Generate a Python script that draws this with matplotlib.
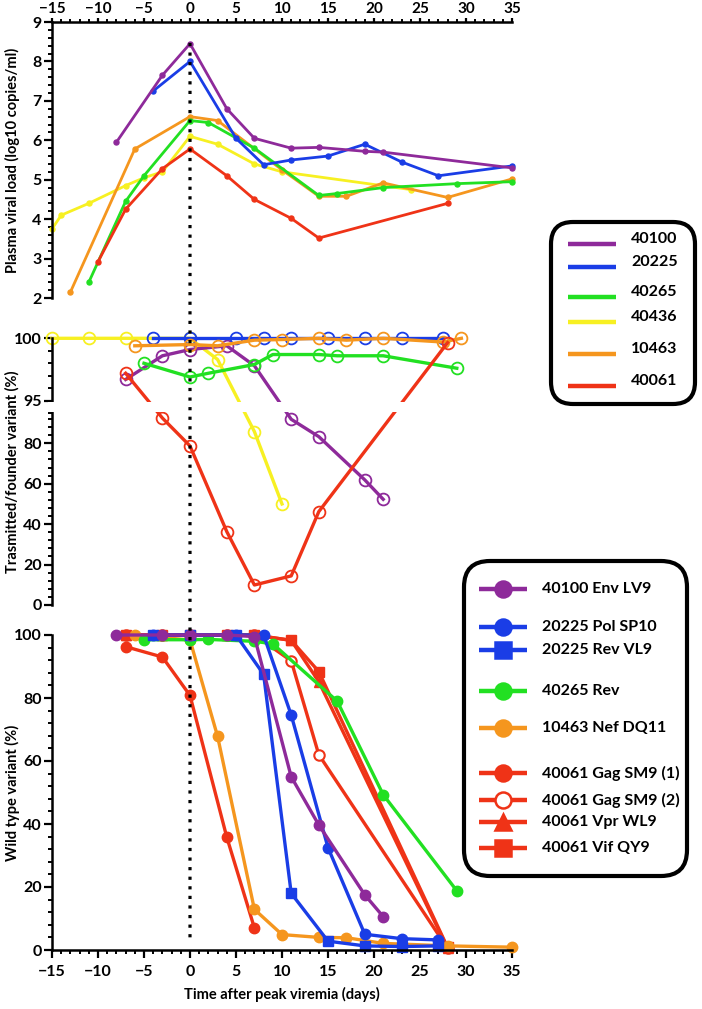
import numpy as np
import matplotlib as mpl
mpl.use('Agg')
import matplotlib.pyplot as plt
from matplotlib.patches import FancyBboxPatch, Rectangle, ConnectionPatch
from matplotlib.ticker import MultipleLocator, FixedLocator

plt.rcParams['font.family'] = ['Lato', 'DejaVu Sans']
plt.rcParams['font.weight'] = 'bold'
plt.rcParams['axes.labelweight'] = 'bold'

# colours per animal
c_purple = '#8e2a9a'
c_blue = '#1a3de6'
c_green = '#22e022'
c_yellow = '#f7f022'
c_orange = '#f5961e'
c_red = '#ef3317'

# ---- top panel: plasma viral load (log10 copies/ml)
vl_40100_x = [-8, -3, 0, 4, 7, 11, 14, 19, 21, 35]
vl_40100_y = [5.95, 7.65, 8.45, 6.8, 6.05, 5.8, 5.82, 5.72, 5.7, 5.3]
vl_20225_x = [-4, 0, 5, 8, 11, 15, 19, 23, 27, 35]
vl_20225_y = [7.25, 8.0, 6.05, 5.38, 5.5, 5.6, 5.9, 5.45, 5.1, 5.35]
vl_40265_x = [-11, -7, -5, 0, 2, 7, 14, 16, 21, 29, 35]
vl_40265_y = [2.4, 4.45, 5.1, 6.5, 6.45, 5.8, 4.6, 4.65, 4.8, 4.9, 4.95]
vl_40436_x = [-15, -14, -11, -7, -5, -3, 0, 3, 7, 10, 24]
vl_40436_y = [3.75, 4.1, 4.4, 4.85, 5.05, 5.2, 6.1, 5.9, 5.4, 5.2, 4.75]
vl_10463_x = [-13, -6, 0, 3, 10, 14, 17, 21, 28, 35]
vl_10463_y = [2.15, 5.78, 6.6, 6.5, 5.25, 4.58, 4.58, 4.92, 4.55, 5.02]
vl_40061_x = [-10, -7, -3, 0, 4, 7, 11, 14, 28]
vl_40061_y = [2.92, 4.25, 5.28, 5.78, 5.1, 4.5, 4.02, 3.52, 4.4]

# ---- middle panel: transmitted/founder variant (%)
tf_40436_x = [-15, -11, -7, 0, 3, 7, 10]
tf_40436_y = [100, 100, 100, 100, 98.3, 85.8, 50]
tf_40100_x = [-7, -3, 0, 4, 7, 11, 14, 19, 21]
tf_40100_y = [96.7, 98.6, 99.1, 99.4, 97.8, 91.9, 83.3, 61.9, 52.3]
tf_20225_x = [-4, 0, 5, 8, 11, 15, 19, 23, 27.5]
tf_20225_y = [100, 100, 100, 100, 100, 100, 100, 100, 100]
tf_40265_x = [-5, 0, 2, 7, 9, 14, 16, 21, 29]
tf_40265_y = [98.0, 96.9, 97.2, 97.9, 98.7, 98.7, 98.6, 98.6, 97.6]
tf_10463_x = [-6, 0, 3, 7, 10, 14, 17, 21, 27.5, 29.5]
tf_10463_y = [99.4, 99.5, 99.4, 99.85, 99.9, 100, 99.85, 100, 99.7, 100]
tf_40061_x = [-7, -3, 0, 4, 7, 11, 14, 28]
tf_40061_y = [97.2, 92.5, 78.7, 36.3, 9.9, 14.4, 46.2, 99.65]

# ---- bottom panel: wild type variant (%)
wt_env_x = [-8, -3, 0, 4, 7, 11, 14, 19, 21]
wt_env_y = [100, 100, 100, 100, 99.5, 55, 39.7, 17.5, 10.6]
wt_pol_x = [-4, 0, 5, 8, 11, 15, 19, 23, 27]
wt_pol_y = [100, 100, 100, 100, 74.6, 32.5, 5.0, 3.6, 3.2]
wt_rev20_x = [-4, 0, 5, 8, 11, 15, 19, 23, 27]
wt_rev20_y = [100, 100, 100, 87.5, 18, 2.8, 1.3, 1.1, 1.3]
wt_rev65_x = [-5, 0, 2, 7, 9, 16, 21, 29]
wt_rev65_y = [98.5, 98.5, 98.6, 98.0, 97.2, 79, 49.3, 18.8]
wt_nef_x = [-6, 0, 3, 7, 10, 14, 17, 21, 28, 35]
wt_nef_y = [100, 98.4, 67.8, 12.9, 4.9, 4.0, 3.9, 2.1, 1.3, 0.9]
wt_gag1_x = [-7, -3, 0, 4, 7]
wt_gag1_y = [96.3, 93, 80.8, 35.8, 7]
wt_gag2_x = [-7, -3, 0, 4, 7, 11, 14, 28]
wt_gag2_y = [100, 100, 100, 100, 100, 91.8, 62, 0.5]
wt_vpr_x = [-7, -3, 0, 4, 7, 11, 14, 28]
wt_vpr_y = [100, 100, 100, 100, 100, 98.3, 85.2, 0.5]
wt_vif_x = [-7, -3, 0, 4, 7, 11, 14, 28]
wt_vif_y = [100, 100, 100, 100, 100, 98.3, 88.4, 0.8]

animals = ['40100', '20225', '40265', '40436', '10463', '40061']
animal_colors = [c_purple, c_blue, c_green, c_yellow, c_orange, c_red]
epitopes = ['40100 Env LV9', '20225 Pol SP10', '20225 Rev VL9', '40265 Rev',
            '10463 Nef DQ11', '40061 Gag SM9 (1)', '40061 Gag SM9 (2)',
            '40061 Vpr WL9', '40061 Vif QY9']
epitope_colors = [c_purple, c_blue, c_blue, c_green, c_orange, c_red, c_red, c_red, c_red]
epitope_markers = ['o', 'o', 's', 'o', 'o', 'o', 'o', '^', 's']
epitope_filled = [True, True, True, True, True, True, False, True, True]

W, H = 702, 1009
fig = plt.figure(figsize=(W/100, H/100), dpi=100)

def box(x0, x1, ytop, ybot):
    return [x0/W, 1-ybot/H, (x1-x0)/W, (ybot-ytop)/H]

# ================= top
ax1 = fig.add_axes(box(52, 512, 22, 298))
for xs, ys, c in [(vl_40436_x, vl_40436_y, c_yellow), (vl_10463_x, vl_10463_y, c_orange),
                  (vl_40265_x, vl_40265_y, c_green), (vl_40061_x, vl_40061_y, c_red),
                  (vl_20225_x, vl_20225_y, c_blue), (vl_40100_x, vl_40100_y, c_purple)]:
    ax1.plot(xs, ys, '-o', color=c, lw=2.0, ms=3.6, clip_on=False)
ax1.set_xlim(-15, 35)
ax1.set_ylim(2, 9)
ax1.xaxis.set_ticks_position('top')
ax1.spines['bottom'].set_visible(False)
ax1.spines['right'].set_visible(False)
ax1.xaxis.set_major_locator(MultipleLocator(5))
ax1.xaxis.set_minor_locator(MultipleLocator(1))
ax1.yaxis.set_major_locator(MultipleLocator(1))
ax1.yaxis.set_minor_locator(MultipleLocator(0.2))
ax1.set_ylabel('Plasma viral load (log10 copies/ml)', fontsize=10.5)
ax1.yaxis.set_label_coords(-0.07, 0.5)

# ================= middle (broken axis 0-95 / 95-100)
K = 6.175
GAP = 6.09

def fwd(y):
    y = np.asarray(y, float)
    return np.where(y < 95, y, 95 + GAP + (y - 95) * K)

def inv(s):
    s = np.asarray(s, float)
    return np.where(s < 95, s, np.where(s < 95 + GAP, 95, 95 + (s - 95 - GAP) / K))

ax2 = fig.add_axes(box(52, 512, 338.3, 605))
ax2.set_yscale('function', functions=(fwd, inv))
mk = dict(marker='o', mfc='none', ms=8.5, mew=1.3, lw=2.4, clip_on=False)
for xs, ys, c in [(tf_40436_x, tf_40436_y, c_yellow), (tf_40100_x, tf_40100_y, c_purple),
                  (tf_20225_x, tf_20225_y, c_blue), (tf_40265_x, tf_40265_y, c_green),
                  (tf_10463_x, tf_10463_y, c_orange), (tf_40061_x, tf_40061_y, c_red)]:
    ax2.plot(xs, ys, color=c, mec=c, **mk)
ax2.set_xlim(-15, 35)
ax2.set_ylim(0, 100)
for s in ['top', 'right', 'bottom']:
    ax2.spines[s].set_visible(False)
ax2.set_xticks([])
ax2.yaxis.set_major_locator(FixedLocator([0, 20, 40, 60, 80, 95, 100]))
ax2.yaxis.set_minor_locator(FixedLocator([v for v in range(4, 95, 4) if v % 20] + [94.99, 96, 97, 98, 99]))
ax2.yaxis.set_major_formatter(mpl.ticker.FuncFormatter(lambda v, p: '%d' % round(v)))
S = float(fwd(100))
ax2.add_patch(Rectangle((-0.008, 95/S + 0.003), 1.07, GAP/S - 0.008, transform=ax2.transAxes,
                        facecolor='white', edgecolor='none', zorder=10, clip_on=False))
ax2.set_ylabel('Trasmitted/founder variant (%)', fontsize=10.5)
ax2.yaxis.set_label_coords(-0.07, 0.5)

# ================= bottom
ax3 = fig.add_axes(box(52, 512, 635, 950))
bk = dict(lw=2.4, ms=7.5, clip_on=False)
ax3.plot(wt_gag2_x, wt_gag2_y, '-o', color=c_red, mfc='white', mec=c_red, mew=1.5, **bk)
ax3.plot(wt_vpr_x, wt_vpr_y, '-^', color=c_red, **bk)
ax3.plot(wt_vif_x, wt_vif_y, '-s', color=c_red, **bk)
ax3.plot(wt_gag1_x, wt_gag1_y, '-o', color=c_red, **bk)
ax3.plot(wt_nef_x, wt_nef_y, '-o', color=c_orange, **bk)
ax3.plot(wt_rev65_x, wt_rev65_y, '-o', color=c_green, **bk)
ax3.plot(wt_rev20_x, wt_rev20_y, '-s', color=c_blue, **bk)
ax3.plot(wt_pol_x, wt_pol_y, '-o', color=c_blue, **bk)
ax3.plot(wt_env_x, wt_env_y, '-o', color=c_purple, **bk)
ax3.set_xlim(-15, 35)
ax3.set_ylim(0, 100)
ax3.spines['top'].set_visible(False)
ax3.spines['right'].set_visible(False)
ax3.xaxis.set_major_locator(MultipleLocator(5))
ax3.xaxis.set_minor_locator(MultipleLocator(1))
ax3.yaxis.set_major_locator(MultipleLocator(20))
ax3.yaxis.set_minor_locator(MultipleLocator(4))
ax3.set_ylabel('Wild type variant (%)', fontsize=10.5)
ax3.yaxis.set_label_coords(-0.07, 0.5)
ax3.set_xlabel('Time after peak viremia (days)', fontsize=10.5, labelpad=6)

for ax in (ax1, ax2, ax3):
    for s in ax.spines.values():
        s.set_linewidth(1.8)
    ax.tick_params(which='major', length=5.5, pad=2, width=1.6, direction='out', labelsize=11.5)
    ax.tick_params(which='minor', length=3.2, width=1.4, direction='out')
ax3.tick_params(axis='x', which='major', pad=5)
ax1.tick_params(axis='x', which='major', length=3, pad=1, labelsize=11)
ax1.tick_params(axis='x', which='minor', length=2)

# dotted line at peak viremia, running through all panels
con = ConnectionPatch(xyA=(0, 8.47), coordsA=ax1.transData, xyB=(0, 2.6), coordsB=ax3.transData,
                      color='black', lw=2.3, ls=(0, (1, 2)), zorder=20)
con.set_capstyle('butt')
fig.add_artist(con)

# ================= legends (drawn in a pixel-space overlay)
lay = fig.add_axes([0, 0, 1, 1], zorder=30)
lay.set_xlim(0, W)
lay.set_ylim(H, 0)
lay.axis('off')

lay.add_patch(FancyBboxPatch((551, 222), 144, 182, boxstyle='round,pad=0,rounding_size=22',
                             fc='white', ec='black', lw=3))
leg1_y = [244, 267, 297, 322, 354, 386]
for name, c, yy in zip(animals, animal_colors, leg1_y):
    lay.plot([568, 616], [yy, yy], color=c, lw=3.2, solid_capstyle='butt')
    lay.text(631, yy - 5, name, fontsize=11.5, va='center', ha='left')

lay.add_patch(FancyBboxPatch((464, 561), 223, 315, boxstyle='round,pad=0,rounding_size=26',
                             fc='white', ec='black', lw=3))
leg2_y = [589, 627, 650, 691, 728, 773, 800, 822, 848]
for name, c, m, f, yy in zip(epitopes, epitope_colors, epitope_markers, epitope_filled, leg2_y):
    lay.plot([479, 527], [yy, yy], color=c, lw=3.2, solid_capstyle='butt')
    lay.plot([503], [yy], marker=m, ms=11.5, color=c, mfc=c if f else 'white', mec=c, mew=1.8)
    lay.text(542, yy, name, fontsize=11.5, va='center', ha='left')

fig.savefig('out.png', dpi=100)
